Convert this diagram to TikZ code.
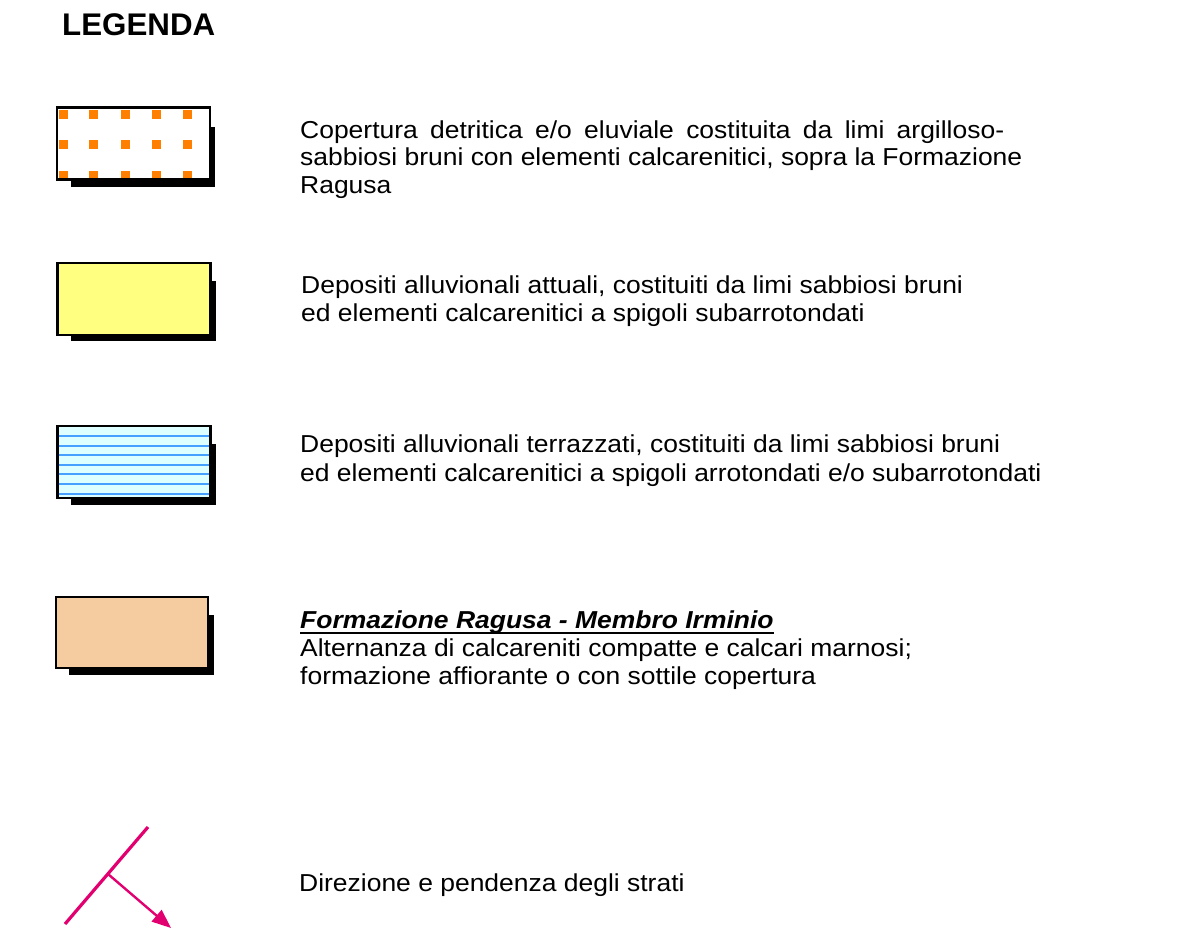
\documentclass[tikz,border=0pt]{standalone}
\usepackage{fontspec}
\setmainfont{Liberation Sans}
\newfontfamily\bodyfont[FakeStretch=1.08]{Liberation Sans}
\usetikzlibrary{arrows.meta,calc}
\definecolor{dotorange}{RGB}{255,128,0}
\definecolor{boxyellow}{RGB}{255,255,128}
\definecolor{boxcyan}{RGB}{221,255,255}
\definecolor{lineblue}{RGB}{70,160,255}
\definecolor{boxpeach}{RGB}{245,203,160}
\definecolor{strike}{RGB}{226,0,112}
\begin{document}
\begin{tikzpicture}[x=1pt,y=-1pt,
  txt/.style={anchor=base west, inner sep=0pt, font=\bodyfont\fontsize{24.5}{28}\selectfont},
  boxnode/.style={draw=black, line width=2.4pt, outer sep=0pt, inner sep=0pt, minimum width=153pt, minimum height=72pt},
  boxborder/.style={draw=black, line width=2.4pt},
  shadow/.style={fill=black},
  stripe/.style={draw=lineblue, line width=1.3pt}]
\useasboundingbox (0,0) rectangle (1180,940);

% title
\node[anchor=base west, inner sep=0pt, font=\fontsize{31.3}{34}\selectfont\bfseries] (title) at (62,35) {LEGENDA};

% box 1
\node[boxnode, fill=white] (b1) at (133.5,143.5) {};
\fill[shadow] ($(b1.north east)+(0,19)$) rectangle ($(b1.south east)+(5,7)$);
\fill[shadow] ($(b1.south west)+(14,0)$) rectangle ($(b1.south east)+(5,7)$);
\begin{scope}
  \clip (b1.south west) rectangle (b1.north east);
  \foreach \x in {59,89,121,152,183}
    \foreach \y in {110,140,171}
      \fill[dotorange] (\x,\y) rectangle ++(9,9);
\end{scope}
\draw[boxborder] (b1.south west) rectangle (b1.north east);

% box 2
\fill[shadow] (211,281) rectangle (216,341);
\fill[shadow] (71,335) rectangle (216,341);
\node[boxnode, fill=boxyellow] (b2) at (134,299) {};

% box 3
\fill[shadow] (211,444) rectangle (216,505);
\fill[shadow] (71,498) rectangle (216,505);
\node[boxnode, fill=boxcyan] (b3) at (134,462) {};
\foreach \y in {436,446,455,465,474,484,494}
  \draw[stripe] (b3.west |- 0,\y) -- (b3.east |- 0,\y);
\draw[boxborder] (b3.south west) rectangle (b3.north east);

% box 4
\fill[shadow] (208,615) rectangle (214,675);
\fill[shadow] (69,668) rectangle (214,675);
\node[boxnode, fill=boxpeach, minimum width=152pt, minimum height=71pt] (b4) at (132,632.5) {};

% texts block 1
\node[txt] (t1a) at (300,138) {\makebox[704pt][s]{Copertura detritica e/o eluviale costituita da limi argilloso-}};
\node[txt] (t1b) at (300,165.5) {sabbiosi bruni con elementi calcarenitici, sopra la Formazione};
\node[txt] (t1c) at (300,193) {Ragusa};

% block 2
\node[txt] (t2a) at (301,293) {Depositi alluvionali attuali, costituiti da limi sabbiosi bruni};
\node[txt] (t2b) at (301,321) {ed elementi calcarenitici a spigoli subarrotondati};

% block 3
\node[txt] (t3a) at (300,452) {Depositi alluvionali terrazzati, costituiti da limi sabbiosi bruni};
\node[txt] (t3b) at (300,481) {ed elementi calcarenitici a spigoli arrotondati e/o subarrotondati};

% block 4
\node[txt, font=\bodyfont\fontsize{24.5}{28}\selectfont\bfseries\itshape] (t4a) at (300,628.5) {Formazione Ragusa - Membro Irminio};
\draw[line width=2pt] ($(t4a.base west)+(0,4.5)$) -- ($(t4a.base east)+(0,4.5)$);
\node[txt] (t4b) at (300,656) {Alternanza di calcareniti compatte e calcari marnosi;};
\node[txt] (t4c) at (300,684) {formazione affiorante o con sottile copertura};

% strike and dip symbol
\coordinate (s1) at (65,924);
\coordinate (s2) at (148,827);
\coordinate (sm) at (108,874);
\coordinate (tip) at (171,928);
\draw[strike, line width=3.2pt] (s1) -- (s2);
\draw[strike, line width=2.4pt, -{Triangle[length=19pt,width=15pt]}] (sm) -- (tip);

\node[txt] (t5) at (299,891) {Direzione e pendenza degli strati};
\end{tikzpicture}
\end{document}
